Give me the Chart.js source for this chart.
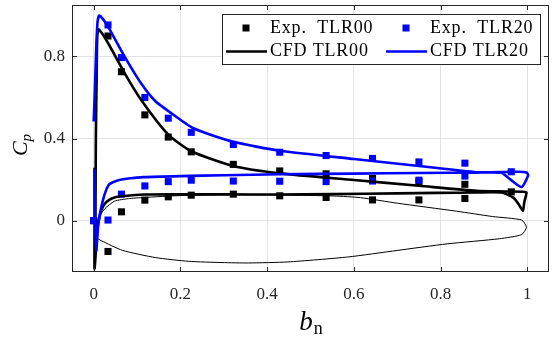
<!DOCTYPE html>
<html>
<head>
<meta charset="utf-8">
<script src="https://cdn.jsdelivr.net/npm/chart.js@4.4.1/dist/chart.umd.min.js"></script>
<style>
  html, body { margin: 0; padding: 0; background: #fff; }
  #wrap { width: 554px; height: 338px; }
</style>
</head>
<body>
<div id="wrap"><canvas id="cpChart" width="554" height="338"></canvas></div>
<script>
// axis ticks
var xTicks = [0, 0.2, 0.4, 0.6, 0.8, 1];
var yTicks = [0, 0.4, 0.8];

// experimental tap positions (b_n)
var expX = [0.033, 0.064, 0.118, 0.172, 0.225, 0.322, 0.429, 0.536, 0.643, 0.75, 0.856, 0.963];
var exp00Upper = [0.899, 0.725, 0.515, 0.407, 0.335, 0.274, 0.242, 0.228, 0.205, 0.19, 0.177, 0.14];
var exp00Lower = [-0.150, 0.043, 0.100, 0.116, 0.124, 0.129, 0.121, 0.113, 0.101, 0.101, 0.108, null];
var exp20Upper = [0.953, 0.794, 0.600, 0.499, 0.430, 0.371, 0.333, 0.317, 0.303, 0.286, 0.280, 0.238];
var exp20Lower = [0.003, 0.129, 0.169, 0.190, 0.197, 0.193, 0.192, 0.190, 0.193, 0.197, 0.217, null];
var expLEx = 0, exp00LE = 0, exp20LE = 0;

// CFD TLR00 (closed loop, lower side -> TE -> upper side -> LE)
var cfd00X = [0.002, 0.002, 0.002, 0.006, 0.009, 0.013, 0.018, 0.025, 0.035, 0.048, 0.07, 0.116, 0.2, 0.3, 0.425, 0.55, 0.7, 0.883, 0.94, 0.967, 0.98, 0.99, 0.993, 0.998, 0.99, 0.95, 0.883, 0.75, 0.6, 0.43, 0.322, 0.225, 0.172, 0.112, 0.074, 0.036, 0.02, 0.011, 0.008, 0.007, 0.005, 0.004, 0.003];
var cfd00Y = [0.257, 0.0, -0.233, -0.12, -0.03, 0.016, 0.052, 0.081, 0.1, 0.113, 0.12, 0.127, 0.128, 0.128, 0.127, 0.129, 0.133, 0.137, 0.137, 0.113, 0.08, 0.048, 0.09, 0.137, 0.141, 0.142, 0.145, 0.17, 0.198, 0.23, 0.266, 0.338, 0.419, 0.58, 0.709, 0.854, 0.91, 0.931, 0.88, 0.725, 0.4, 0.0, -0.2];

// CFD TLR20
var cfd20X = [0.002, 0.003, 0.006, 0.01, 0.015, 0.021, 0.028, 0.036, 0.055, 0.08, 0.116, 0.2, 0.3, 0.43, 0.6, 0.75, 0.883, 0.94, 0.96, 0.987, 1.002, 0.998, 0.98, 0.95, 0.883, 0.75, 0.6, 0.43, 0.32, 0.23, 0.174, 0.143, 0.112, 0.074, 0.036, 0.022, 0.013, 0.009, 0.006, 0.003, 0.0];
var cfd20Y = [0.25, 0.05, -0.145, -0.03, 0.04, 0.097, 0.145, 0.177, 0.196, 0.205, 0.212, 0.217, 0.221, 0.226, 0.229, 0.232, 0.234, 0.233, 0.202, 0.164, 0.222, 0.234, 0.238, 0.237, 0.236, 0.266, 0.3, 0.34, 0.385, 0.45, 0.531, 0.58, 0.66, 0.789, 0.934, 0.98, 0.999, 0.97, 0.85, 0.65, 0.483];

// blade profile outline (thin line)
var profX = [0.004, 0.01, 0.016, 0.025, 0.048, 0.08, 0.116, 0.2, 0.3, 0.43, 0.555, 0.615, 0.7, 0.837, 0.92, 0.987, 0.998, 0.987, 0.936, 0.815, 0.7, 0.586, 0.448, 0.357, 0.296, 0.219, 0.143, 0.067, 0.017, 0.006, 0.004];
var profY = [-0.04, 0.0, 0.03, 0.057, 0.095, 0.107, 0.113, 0.122, 0.126, 0.125, 0.12, 0.112, 0.085, 0.046, 0.02, 0.003, -0.032, -0.068, -0.088, -0.113, -0.145, -0.177, -0.201, -0.206, -0.204, -0.198, -0.18, -0.145, -0.097, -0.081, -0.04];

function pts(xs, ys) {
  var out = [];
  for (var i = 0; i < xs.length; i++) {
    if (ys[i] !== null) out.push({ x: xs[i], y: ys[i] });
  }
  return out;
}

var legendItems = [
  { label: "Exp.  TLR00", color: "#000000", marker: true, x0: 226, row: 0 },
  { label: "Exp.  TLR20", color: "#0000ff", marker: true, x0: 386, row: 0 },
  { label: "CFD TLR00", color: "#000000", marker: false, x0: 226, row: 1 },
  { label: "CFD TLR20", color: "#0000ff", marker: false, x0: 386, row: 1 }
];

var axisColor = "#262626";
var serif = '"Liberation Serif", "DejaVu Serif", serif';

// drop the automatic label padding so the plot box sits where it should
function noPad(s) {
  s.paddingTop = 0; s.paddingBottom = 0; s.paddingLeft = 0; s.paddingRight = 0;
}

var decorPlugin = {
  id: "decor",
  afterDraw: function (chart) {
    var ctx = chart.ctx;
    var a = chart.chartArea;
    var xs = chart.scales.x, ys = chart.scales.y;
    ctx.save();
    // axes box
    ctx.strokeStyle = axisColor;
    ctx.lineWidth = 1;
    ctx.strokeRect(a.left + 0.5, a.top + 0.5, a.right - a.left - 1, a.bottom - a.top - 1);
    // inward ticks
    ctx.beginPath();
    xTicks.forEach(function (v) {
      var px = Math.round(xs.getPixelForValue(v)) + 0.5;
      ctx.moveTo(px, a.bottom); ctx.lineTo(px, a.bottom - 5);
      ctx.moveTo(px, a.top); ctx.lineTo(px, a.top + 5);
    });
    yTicks.forEach(function (v) {
      var py = Math.round(ys.getPixelForValue(v)) + 0.5;
      ctx.moveTo(a.left, py); ctx.lineTo(a.left + 5, py);
      ctx.moveTo(a.right, py); ctx.lineTo(a.right - 5, py);
    });
    ctx.stroke();

    // legend
    ctx.fillStyle = "#ffffff";
    ctx.fillRect(222, 14, 319, 51);
    ctx.strokeStyle = axisColor;
    ctx.lineWidth = 1;
    ctx.strokeRect(222.5, 14.5, 318, 50);
    ctx.font = "18px " + serif;
    ctx.letterSpacing = "0.8px";
    ctx.textBaseline = "middle";
    ctx.textAlign = "left";
    legendItems.forEach(function (it) {
      var cy = it.row === 0 ? 28 : 51;
      if (it.marker) {
        ctx.fillStyle = it.color;
        ctx.fillRect(it.x0 + 20 - 3.5, cy - 3.5, 7, 7);
      } else {
        ctx.strokeStyle = it.color;
        ctx.lineWidth = 2.5;
        ctx.beginPath();
        ctx.moveTo(it.x0, cy + 0.5);
        ctx.lineTo(it.x0 + 41, cy + 0.5);
        ctx.stroke();
      }
      ctx.fillStyle = "#000000";
      ctx.fillText(it.label, it.x0 + 44, cy);
    });
    ctx.letterSpacing = "0px";

    // y title: C_p rotated
    ctx.save();
    ctx.translate(27, 145);
    ctx.rotate(-Math.PI / 2);
    ctx.fillStyle = "#000000";
    ctx.textBaseline = "alphabetic";
    ctx.font = "italic 22px " + serif;
    var wC = ctx.measureText("C").width;
    ctx.font = "italic 15px " + serif;
    var wp = ctx.measureText("p").width;
    var tot = wC + wp;
    ctx.font = "italic 22px " + serif;
    ctx.fillText("C", -tot / 2, 0);
    ctx.font = "italic 15px " + serif;
    ctx.fillText("p", -tot / 2 + wC, 4);
    ctx.restore();

    // x title: b_n
    ctx.fillStyle = "#000000";
    ctx.textBaseline = "alphabetic";
    ctx.font = "italic 27px " + serif;
    var wb = ctx.measureText("b").width;
    ctx.font = "18px " + serif;
    var wn = ctx.measureText("n").width;
    var cx = (a.left + a.right) / 2;
    ctx.font = "italic 27px " + serif;
    ctx.fillText("b", cx - (wb + wn) / 2, 330);
    ctx.font = "18px " + serif;
    ctx.fillText("n", cx - (wb + wn) / 2 + wb + 1, 334);
    ctx.restore();
  }
};

var chart = new Chart(document.getElementById("cpChart"), {
  type: "scatter",
  data: {
    datasets: [
      {
        label: "CFD TLR20",
        data: pts(cfd20X, cfd20Y),
        showLine: true,
        borderColor: "#0000ff",
        borderWidth: 2.6,
        pointRadius: 0,
        tension: 0.2,
        order: 0
      },
      {
        label: "CFD TLR00",
        data: pts(cfd00X, cfd00Y),
        showLine: true,
        borderColor: "#000000",
        borderWidth: 2.6,
        pointRadius: 0,
        tension: 0.2,
        order: 1
      },
      {
        label: "profile",
        data: pts(profX, profY),
        showLine: true,
        borderColor: "#000000",
        borderWidth: 1,
        pointRadius: 0,
        tension: 0.2,
        order: 2
      },
      {
        label: "Exp. TLR20",
        data: pts(expX, exp20Upper).concat(pts(expX, exp20Lower)).concat([{ x: expLEx, y: exp20LE }]),
        pointStyle: "rect",
        pointRadius: 5,
        pointBorderWidth: 0,
        backgroundColor: "#0000ff",
        borderColor: "#0000ff",
        order: 3
      },
      {
        label: "Exp. TLR00",
        data: pts(expX, exp00Upper).concat(pts(expX, exp00Lower)).concat([{ x: expLEx, y: exp00LE }]),
        pointStyle: "rect",
        pointRadius: 5,
        pointBorderWidth: 0,
        backgroundColor: "#000000",
        borderColor: "#000000",
        order: 4
      }
    ]
  },
  options: {
    responsive: false,
    animation: false,
    layout: { padding: { left: 0, right: 2, top: 3, bottom: 0 } },
    plugins: {
      legend: { display: false },
      tooltip: { enabled: false }
    },
    scales: {
      x: {
        type: "linear",
        min: -0.05,
        max: 1.05,
        afterBuildTicks: function (s) { s.ticks = xTicks.map(function (v) { return { value: v }; }); },
        afterFit: function (s) { s.height = 66; noPad(s); },
        border: { display: false },
        grid: { color: "#e3e3e3", lineWidth: 1, drawTicks: false },
        ticks: {
          padding: 12,
          color: axisColor,
          font: { family: serif, size: 17 },
          callback: function (v) { return String(v); }
        }
      },
      y: {
        type: "linear",
        min: -0.25,
        max: 1.05,
        afterBuildTicks: function (s) { s.ticks = yTicks.map(function (v) { return { value: v }; }); },
        afterFit: function (s) { s.width = 72; noPad(s); },
        border: { display: false },
        grid: { color: "#e3e3e3", lineWidth: 1, drawTicks: false },
        ticks: {
          padding: 7,
          color: axisColor,
          font: { family: serif, size: 17 },
          callback: function (v) { return String(v); }
        }
      }
    }
  },
  plugins: [decorPlugin]
});
</script>
</body>
</html>
